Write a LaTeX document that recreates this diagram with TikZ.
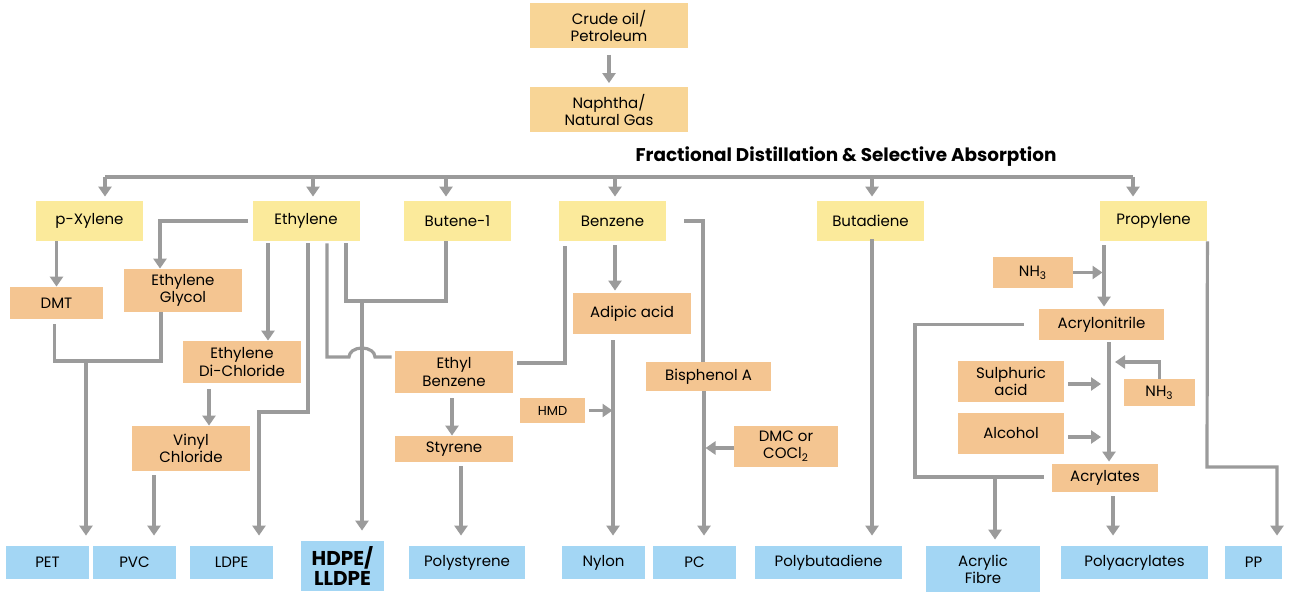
\documentclass[tikz,border=0pt]{standalone}
\usepackage{fontspec}
\setmainfont{Poppins}
\usepackage{xcolor}
\usetikzlibrary{arrows.meta}
\definecolor{crudeorange}{HTML}{F8D596}
\definecolor{feedyellow}{HTML}{FBEA9B}
\definecolor{midorange}{HTML}{F4C591}
\definecolor{polyblue}{HTML}{A3D6F4}
\definecolor{linegray}{HTML}{9B9B9B}
\begin{document}
\begin{tikzpicture}[
    x                       = 0.5pt,
    y                       = -0.5pt,
    every node/.style       = {font=\fontsize{7.5}{8.6}\selectfont, align=center, inner sep=0pt},
    topbox/.style           = {fill=crudeorange, minimum width=79pt, minimum height=22.5pt},
    feedbox/.style          = {fill=feedyellow, minimum width=53.5pt, minimum height=20pt},
    midbox/.style           = {fill=midorange},
    polybox/.style          = {fill=polyblue, minimum height=16.5pt},
    line/.style             = {draw=linegray, line width=1.6pt},
    arr/.style              = {line, -{Triangle[width=6.5pt,length=5pt]}},
    gap/.style              = {shorten >=5pt},
    sz/.style 2 args        = {minimum width=#1, minimum height=#2}
  ]
\useasboundingbox (0,0) rectangle (1293,592);

\node[topbox] (crude)   at (609,26)  {Crude oil/\\Petroleum};
\node[topbox] (naphtha) at (609,110) {Naphtha/\\Natural Gas};
\node[font=\fontsize{9.2}{10}\selectfont\bfseries] (title) at (846,157) {Fractional Distillation \& Selective Absorption};

\node[feedbox] (pxylene)   at (89.5,221)   {p-Xylene};
\node[feedbox] (ethylene)  at (306,221)    {Ethylene};
\node[feedbox] (butene)    at (457.5,221)  {Butene-1};
\node[feedbox] (benzene)   at (612.5,221)  {Benzene};
\node[feedbox] (butadiene) at (870.5,221)  {Butadiene};
\node[feedbox] (propylene) at (1153.5,221) {Propylene};

\node[midbox, sz={46.5pt}{16pt}]   (dmt)           at (56.5,303)    {DMT};
\node[midbox, sz={59pt}{21.5pt}]   (glycol)        at (183,290.5)   {Ethylene\\Glycol};
\node[midbox, sz={59pt}{21pt}]     (edc)           at (242,362)     {Ethylene\\Di-Chloride};
\node[midbox, sz={59pt}{22.5pt}]   (vinyl)         at (191,448.5)   {Vinyl\\Chloride};
\node[midbox, sz={59pt}{21pt}]     (ethylbenz)     at (454,372)     {Ethyl\\Benzene};
\node[midbox, sz={59pt}{13pt}]     (styrene)       at (454,449)     {Styrene};
\node[midbox, sz={59pt}{20.5pt}]   (adipic)        at (632,313.5)   {Adipic acid};
\node[midbox, sz={32.5pt}{12.5pt}, font=\fontsize{6.5}{7.5}\selectfont] (hmd) at (552.5,410.5) {HMD};
\node[midbox, sz={62.5pt}{14.5pt}] (bisphenol)     at (708.5,376.5) {Bisphenol A};
\node[midbox, sz={52pt}{20.5pt}]   (dmc)           at (786,446.5)   {DMC or\\COCl\textsubscript{2}};
\node[midbox, sz={40pt}{15.5pt}]   (nhtop)         at (1033,272.5)  {NH\textsubscript{3}};
\node[midbox, sz={62.5pt}{15.5pt}] (acrylonitrile) at (1101.5,324.5) {Acrylonitrile};
\node[midbox, sz={53pt}{20.5pt}]   (sulphuric)     at (1011,381.5)  {Sulphuric\\acid};
\node[midbox, sz={35.5pt}{13.5pt}] (nhright)       at (1159.5,392.5) {NH\textsubscript{3}};
\node[midbox, sz={53pt}{20.5pt}]   (alcohol)       at (1011,433.5)  {Alcohol};
\node[midbox, sz={53pt}{14pt}]     (acrylates)     at (1105,478)    {Acrylates};

\node[polybox, minimum width=41.5pt] (pet)           at (47.5,562.5)   {PET};
\node[polybox, minimum width=41.5pt] (pvc)           at (134.5,562.5)  {PVC};
\node[polybox, minimum width=41.5pt] (ldpe)          at (231.5,562.5)  {LDPE};
\node[polybox, sz={41.5pt}{25pt}, font=\fontsize{10}{9.8}\selectfont\bfseries] (hdpe) at (342.5,566) {HDPE/\\LLDPE};
\node[polybox, minimum width=58pt]   (polystyrene)   at (467,562.5)    {Polystyrene};
\node[polybox, minimum width=41.5pt] (nylon)         at (603.5,562.5)  {Nylon};
\node[polybox, minimum width=41.5pt] (pc)            at (694.5,562.5)  {PC};
\node[polybox, minimum width=73.5pt] (polybutadiene) at (828.5,562.5)  {Polybutadiene};
\node[polybox, sz={57pt}{23pt}]      (acrylic)       at (983,569)      {Acrylic\\Fibre};
\node[polybox, minimum width=73.5pt] (polyacrylates) at (1134.5,562.5) {Polyacrylates};
\node[polybox, minimum width=28.5pt] (pp)            at (1253.5,562.5) {PP};

\coordinate (busw)   at (105,177);
\coordinate (buse)   at (1133,177);
\coordinate (petj)   at (86,361);
\coordinate (ldpej)  at (308,412);
\coordinate (hdpej)  at (362,301);
\coordinate (jump)   at (349,357);
\coordinate (acrbend) at (915,477);
\coordinate (acrj)   at (995,477);
\coordinate (nhtip)  at (1115,362);
\coordinate (ppbend) at (1207,467);

\draw[arr, shorten <=3pt, shorten >=2pt] (crude) -- (naphtha);
\draw[line] (busw) -- (buse);
\foreach \x/\n in {105/pxylene,313/ethylene,446/butene,615/benzene,872/butadiene,1133/propylene}
  \draw[arr, shorten >=2pt] (\x,177) -- (\x,177 |- \n.north);

\draw[arr] (pxylene.south -| dmt.north) -- (dmt.north);
\draw[arr, shorten <=2pt] (ethylene.west) -| ([xshift=-11.5pt]glycol.north);
\draw[line, shorten <=2.5pt] ([xshift=-1pt]dmt.south) |- (petj) -| ([xshift=-11pt]glycol.south);
\draw[arr, gap] (petj) -- (petj |- pet.north);
\draw[arr, shorten <=1pt] ([xshift=-19pt]ethylene.south) -- ([xshift=-19pt]ethylene.south |- edc.north);
\draw[arr, shorten <=3pt] ([xshift=9pt]vinyl.north |- edc.south) -- ([xshift=9pt]vinyl.north);
\draw[arr, gap, shorten <=2pt] ([xshift=9.75pt]pvc.north |- vinyl.south) -- ([xshift=9.75pt]pvc.north);
\draw[arr, gap, line width=2pt, shorten <=1pt] (ethylene.south -| ldpej) -- (ldpej) -| ([xshift=13.75pt]ldpe.north);
\draw[line, shorten <=1pt] ([xshift=20pt]ethylene.south) |- ([xshift=-5.75pt]butene.south |- hdpej) -- ([xshift=-5.75pt]butene.south);
\draw[arr, gap] (hdpej) -- (hdpej |- hdpe.north);
\draw[line, shorten <=1pt, shorten >=1.5pt] ([xshift=10.5pt]ethylene.south) |- (jump)
  arc[start angle=180, end angle=0, x radius=6.5pt, y radius=4.5pt] -- ([yshift=7.5pt]ethylbenz.west);
\draw[line, shorten <=2.5pt, shorten >=2pt] ([xshift=-23.75pt]benzene.south) |- ([yshift=4.5pt]ethylbenz.east);
\draw[arr, shorten <=2.5pt] ([xshift=-1pt]ethylbenz.south) -- ([xshift=-1pt]styrene.north);
\draw[arr, gap, shorten <=2pt] ([xshift=-3pt]polystyrene.north |- styrene.south) -- ([xshift=-3pt]polystyrene.north);
\draw[arr, shorten <=2pt, shorten >=1pt] ([xshift=-8.5pt]adipic.north |- benzene.south) -- ([xshift=-8.5pt]adipic.north);
\draw[arr, gap, shorten <=3pt] ([xshift=4.75pt]nylon.north |- adipic.south) -- ([xshift=4.75pt]nylon.north);
\draw[arr, shorten <=2pt] (hmd.east) -- ([xshift=4.5pt]nylon.north |- hmd.east);
\draw[line, shorten <=9pt] (benzene.east) -| ([xshift=-2.75pt]bisphenol.north);
\draw[arr, gap] ([xshift=4.75pt]pc.north |- bisphenol.south) -- ([xshift=4.75pt]pc.north);
\draw[arr] ([yshift=-0.75pt]dmc.west) -- ([xshift=5.5pt,yshift=-0.75pt]pc.north |- dmc.west);
\draw[arr, gap, shorten <=-1pt] ([xshift=0.75pt]butadiene.south) -- ([xshift=0.75pt]butadiene.south |- polybutadiene.north);
\draw[arr, shorten <=2pt, shorten >=1pt] ([xshift=1.25pt]acrylonitrile.north |- propylene.south) -- ([xshift=1.25pt]acrylonitrile.north);
\draw[arr] (nhtop.east) -- ([xshift=0.5pt]acrylonitrile.north |- nhtop.east);
\draw[line, shorten <=7.5pt, shorten >=4pt] (acrylonitrile.west) -| (acrbend) -- (acrylates.west |- acrbend);
\draw[arr, line width=2.2pt, shorten >=3pt] (acrj) -- (acrj |- acrylic.north);
\draw[arr, shorten <=1pt, shorten >=1pt] ([xshift=2pt]acrylates.north |- acrylonitrile.south) -- ([xshift=2pt]acrylates.north);
\draw[arr] (nhright.north) |- (nhtip);
\draw[arr, shorten <=2pt] ([yshift=-1.25pt]sulphuric.east) -- ([xshift=-2pt,yshift=-1.25pt]acrylates.north |- sulphuric.east);
\draw[arr, shorten <=2pt] ([yshift=-1.75pt]alcohol.east) -- ([xshift=-2pt,yshift=-1.75pt]acrylates.north |- alcohol.east);
\draw[arr, gap, shorten <=2pt] ([xshift=4pt]acrylates.south) -- ([xshift=4pt]acrylates.south |- polyacrylates.north);
\draw[arr, gap] (propylene.south east) -- (ppbend) -| ([xshift=11.75pt]pp.north);
\end{tikzpicture}
\end{document}
